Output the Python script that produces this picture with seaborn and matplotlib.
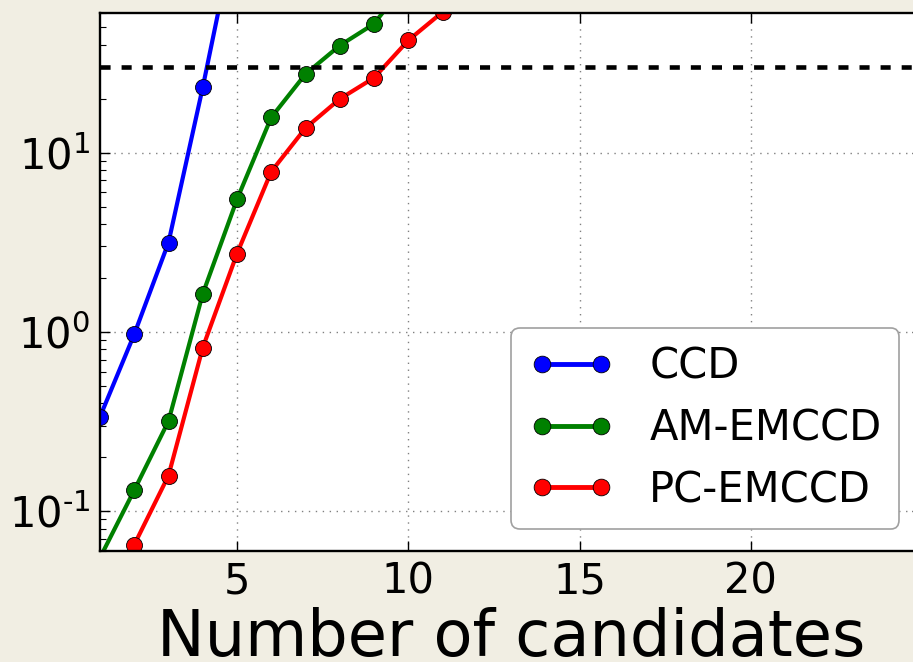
import matplotlib
matplotlib.use("Agg")
import numpy as np
import matplotlib.pyplot as plt
import seaborn as sns
import pandas as pd
from matplotlib.lines import Line2D
from matplotlib.legend_handler import HandlerLine2D
from matplotlib.ticker import FuncFormatter

# Values per detector, indexed by number of candidates
candidates_ccd = [1, 2, 3, 4, 5]
ccd = [0.336, 0.97, 3.15, 23.1, 195.0]

candidates_am = [1, 2, 3, 4, 5, 6, 7, 8, 9, 10]
am_emccd = [0.055, 0.131, 0.318, 1.63, 5.48, 15.7, 27.4, 39.5, 52.2, 92.0]

candidates_pc = [2, 3, 4, 5, 6, 7, 8, 9, 10, 11]
pc_emccd = [0.065, 0.158, 0.817, 2.73, 7.83, 13.7, 19.9, 26.1, 42.2, 60.7]

labels = ["CCD", "AM-EMCCD", "PC-EMCCD"]
colors = ["#0000ff", "#008000", "#ff0000"]
threshold = 30.0
x_ticks = [5, 10, 15, 20]

frames = []
for lab, xs, ys in zip(labels, [candidates_ccd, candidates_am, candidates_pc],
                       [ccd, am_emccd, pc_emccd]):
    frames.append(pd.DataFrame({"candidates": xs, "value": ys, "detector": lab}))
df = pd.concat(frames, ignore_index=True)

bg = "#f1eee3"
plt.rcParams["font.family"] = ["DejaVu Sans"]
plt.rcParams["mathtext.fontset"] = "dejavusans"

LW = 3.0
MS = 11.5

fig = plt.figure(figsize=(9.13, 6.62), dpi=100, facecolor=bg)
ax = fig.add_axes([100 / 913, 111 / 662, 822 / 913, 538 / 662])
ax.set_facecolor("white")

sns.lineplot(data=df, x="candidates", y="value", hue="detector",
             hue_order=labels, palette=dict(zip(labels, colors)),
             estimator=None, sort=True, marker="o", markersize=MS,
             markeredgecolor="k", markeredgewidth=0.6, linewidth=LW,
             legend=False, ax=ax)

ax.set_yscale("log")
ax.set_xlim(1, 25)
ax.set_ylim(0.06, 60)
ax.set_xticks(x_ticks)


def pow10(v, pos):
    e = int(round(np.log10(v)))
    s = str(e).replace("-", r"\text{-}")
    return rf"$10^{{{s}}}$"


ax.yaxis.set_major_formatter(FuncFormatter(pow10))

ax.axhline(threshold, color="k", linestyle=(0, (2.2, 2.4)), linewidth=3.3)

ax.grid(True, which="major", color="#808080", linestyle=(0, (1, 4)),
        linewidth=1.0)
ax.tick_params(axis="both", which="major", direction="in", length=7, width=1,
               labelsize=30, pad=7, top=True, right=True)
ax.tick_params(axis="y", which="minor", direction="in", length=4, width=0.8,
               right=True)
for s in ax.spines.values():
    s.set_linewidth(1.7)
    s.set_color("k")

ax.set_xlabel("Number of candidates", fontsize=46)
ax.set_ylabel("")
ax.xaxis.label.set_va("baseline")
ax.xaxis.set_label_coords(0.5, (6 - 111) / 538)

handles = [Line2D([], [], color=c, marker="o", markersize=MS + 0.5,
                  markeredgecolor="k", markeredgewidth=0.6, linewidth=LW + 0.5)
           for c in colors]
leg = ax.legend(handles, labels, loc="lower right", numpoints=2,
                bbox_to_anchor=(0.972, 0.0418), borderaxespad=0,
                fontsize=30, fancybox=True, framealpha=1,
                edgecolor="#a0a0a0", handlelength=2.06, handletextpad=0.83,
                labelspacing=0.47, borderpad=0.42,
                handler_map={Line2D: HandlerLine2D(marker_pad=0.32)})
leg.get_frame().set_linewidth(1.2)

fig.savefig("out.png", dpi=100, facecolor=bg)
